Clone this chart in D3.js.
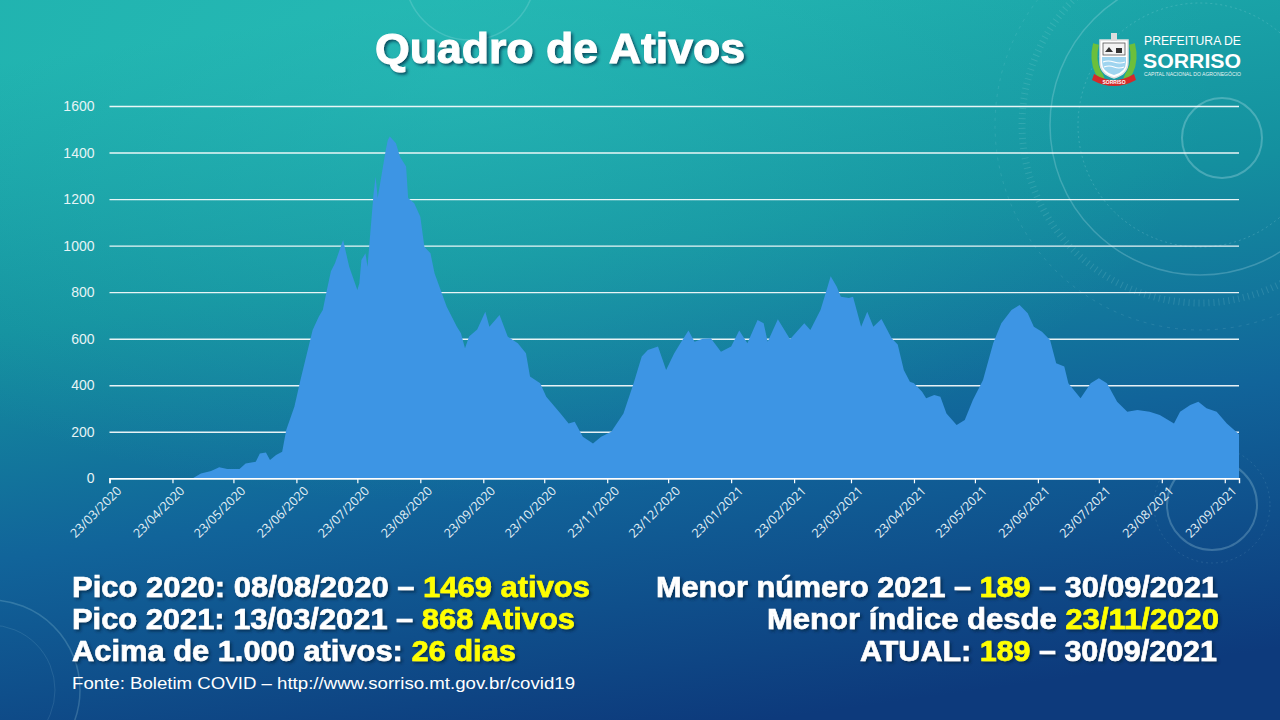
<!DOCTYPE html>
<html>
<head>
<meta charset="utf-8">
<script src="https://cdn.jsdelivr.net/npm/d3@7"></script>
<style>
  body { margin: 0; background: #0f5a8e; overflow: hidden; }
  svg { display: block; }
</style>
</head>
<body>
<div id="chart"></div>
<script>
// Ativos (casos ativos), por data
const datas = [
  "23/03/2020", "03/05/2020", "07/05/2020", "12/05/2020", "16/05/2020", "20/05/2020", "26/05/2020", "29/05/2020",
  "03/06/2020", "05/06/2020", "08/06/2020", "10/06/2020", "13/06/2020", "16/06/2020", "18/06/2020", "22/06/2020",
  "25/06/2020", "27/06/2020", "01/07/2020", "04/07/2020", "06/07/2020", "08/07/2020", "10/07/2020", "12/07/2020",
  "15/07/2020", "16/07/2020", "19/07/2020", "23/07/2020", "24/07/2020", "25/07/2020", "27/07/2020", "28/07/2020",
  "31/07/2020", "01/08/2020", "02/08/2020", "06/08/2020", "07/08/2020", "08/08/2020", "11/08/2020", "13/08/2020",
  "16/08/2020", "17/08/2020", "20/08/2020", "23/08/2020", "25/08/2020", "28/08/2020", "30/08/2020", "02/09/2020",
  "05/09/2020", "10/09/2020", "12/09/2020", "14/09/2020", "16/09/2020", "20/09/2020", "24/09/2020", "26/09/2020",
  "01/10/2020", "05/10/2020", "10/10/2020", "14/10/2020", "16/10/2020", "21/10/2020", "24/10/2020", "31/10/2020",
  "04/11/2020", "07/11/2020", "11/11/2020", "16/11/2020", "20/11/2020", "25/11/2020", "01/12/2020", "06/12/2020",
  "10/12/2020", "13/12/2020", "18/12/2020", "22/12/2020", "26/12/2020", "29/12/2020", "02/01/2021", "05/01/2021",
  "09/01/2021", "13/01/2021", "18/01/2021", "23/01/2021", "27/01/2021", "31/01/2021", "05/02/2021", "08/02/2021",
  "10/02/2021", "15/02/2021", "21/02/2021", "28/02/2021", "03/03/2021", "08/03/2021", "11/03/2021", "13/03/2021",
  "16/03/2021", "18/03/2021", "22/03/2021", "24/03/2021", "28/03/2021", "31/03/2021", "03/04/2021", "07/04/2021",
  "12/04/2021", "15/04/2021", "18/04/2021", "21/04/2021", "23/04/2021", "27/04/2021", "29/04/2021", "03/05/2021",
  "06/05/2021", "09/05/2021", "14/05/2021", "18/05/2021", "22/05/2021", "27/05/2021", "01/06/2021", "05/06/2021",
  "10/06/2021", "14/06/2021", "18/06/2021", "21/06/2021", "25/06/2021", "29/06/2021", "02/07/2021", "06/07/2021",
  "08/07/2021", "14/07/2021", "19/07/2021", "23/07/2021", "27/07/2021", "01/08/2021", "06/08/2021", "11/08/2021",
  "17/08/2021", "22/08/2021", "29/08/2021", "01/09/2021", "06/09/2021", "10/09/2021", "14/09/2021", "19/09/2021",
  "24/09/2021", "30/09/2021"
];
const ativos = [
  0, 0, 21, 31, 47, 40, 40, 64,
  71, 107, 111, 79, 100, 114, 208, 308,
  422, 494, 637, 694, 723, 809, 890, 924,
  1000, 1024, 909, 809, 838, 938, 967, 909,
  1225, 1296, 1205, 1411, 1454, 1469, 1440, 1382,
  1340, 1205, 1182, 1124, 995, 967, 881, 809,
  737, 651, 623, 559, 609, 640, 716, 651,
  702, 609, 580, 537, 437, 408, 351, 279,
  236, 243, 179, 150, 179, 200, 279, 408,
  523, 551, 566, 465, 537, 580, 635, 587,
  600, 602, 544, 566, 635, 580, 680, 666,
  587, 684, 598, 666, 637, 723, 809, 868,
  823, 780, 775, 780, 651, 716, 651, 685,
  602, 575, 465, 415, 408, 372, 344, 358,
  351, 279, 229, 251, 336, 422, 580, 666,
  723, 745, 709, 651, 630, 594, 494, 480,
  408, 344, 408, 430, 408, 329, 286, 294,
  286, 272, 236, 286, 315, 329, 301, 286,
  236, 189
];
const yTicks = [0, 200, 400, 600, 800, 1000, 1200, 1400, 1600];
const xTickLabels = [
  "23/03/2020", "23/04/2020", "23/05/2020", "23/06/2020", "23/07/2020", "23/08/2020", "23/09/2020",
  "23/10/2020", "23/11/2020", "23/12/2020", "23/01/2021", "23/02/2021", "23/03/2021", "23/04/2021",
  "23/05/2021", "23/06/2021", "23/07/2021", "23/08/2021", "23/09/2021"
];
const dataInicio = "23/03/2020";
const dataFim = "30/09/2021";

const W = 1280, H = 720;
const plot = { left: 109.5, right: 1239, top: 106, bottom: 478.3 };

const parse = d3.timeParse("%d/%m/%Y");
const fmt = d3.timeFormat("%d/%m/%Y");
const serie = datas.map((d, i) => ({ date: parse(d), value: ativos[i] }));

const svg = d3.select("#chart").append("svg")
  .attr("width", W)
  .attr("height", H);

const defs = svg.append("defs");

// background gradient teal -> blue
const bg = defs.append("linearGradient")
  .attr("id", "bg")
  .attr("x1", "0.35").attr("y1", "0")
  .attr("x2", "0.6").attr("y2", "1");
bg.append("stop").attr("offset", "0%").attr("stop-color", "#1eb0ad");
bg.append("stop").attr("offset", "35%").attr("stop-color", "#14909f");
bg.append("stop").attr("offset", "65%").attr("stop-color", "#11649a");
bg.append("stop").attr("offset", "100%").attr("stop-color", "#0d3a7c");

const glow = defs.append("radialGradient")
  .attr("id", "glow")
  .attr("cx", "0.35").attr("cy", "0.1").attr("r", "0.6");
glow.append("stop").attr("offset", "0%").attr("stop-color", "#2fc4bd").attr("stop-opacity", 0.45);
glow.append("stop").attr("offset", "100%").attr("stop-color", "#2fc4bd").attr("stop-opacity", 0);

const shadow = defs.append("filter").attr("id", "shadow")
  .attr("x", "-10%").attr("y", "-30%").attr("width", "130%").attr("height", "170%");
shadow.append("feDropShadow")
  .attr("dx", 2).attr("dy", 2).attr("stdDeviation", 1.6)
  .attr("flood-color", "#06223f").attr("flood-opacity", 0.7);

svg.append("rect").attr("width", W).attr("height", H).attr("fill", "url(#bg)");
svg.append("rect").attr("width", W).attr("height", H).attr("fill", "url(#glow)");

// decorative rings
const deco = svg.append("g").attr("fill", "none").attr("stroke", "#bfe9ee");
deco.append("circle").attr("cx", 1200).attr("cy", 125).attr("r", 150).attr("stroke-opacity", 0.25).attr("stroke-width", 1.5);
deco.append("circle").attr("cx", 1200).attr("cy", 125).attr("r", 122).attr("stroke-opacity", 0.2).attr("stroke-dasharray", "2,3");
deco.append("circle").attr("cx", 1200).attr("cy", 125).attr("r", 178).attr("stroke-opacity", 0.15).attr("stroke-width", 7).attr("stroke-dasharray", "1,4");
deco.append("circle").attr("cx", 1222).attr("cy", 138).attr("r", 40).attr("stroke-opacity", 0.3).attr("stroke-width", 2);
deco.append("circle").attr("cx", 1200).attr("cy", 125).attr("r", 205).attr("stroke-opacity", 0.12).attr("stroke-dasharray", "3,5");
deco.append("circle").attr("cx", 1212).attr("cy", 505).attr("r", 45).attr("stroke-opacity", 0.25).attr("stroke-width", 2);
deco.append("circle").attr("cx", 1212).attr("cy", 505).attr("r", 58).attr("stroke-opacity", 0.12).attr("stroke-dasharray", "2,3");
deco.append("circle").attr("cx", -10).attr("cy", 690).attr("r", 90).attr("stroke-opacity", 0.2).attr("stroke-width", 1.5);
deco.append("circle").attr("cx", -10).attr("cy", 690).attr("r", 65).attr("stroke-opacity", 0.12);
deco.append("circle").attr("cx", 470).attr("cy", -25).attr("r", 65).attr("stroke-opacity", 0.2).attr("stroke-width", 1.5);

// scales
const x = d3.scaleTime()
  .domain([parse(dataInicio), parse(dataFim)])
  .range([plot.left, plot.right]);
const y = d3.scaleLinear()
  .domain([0, 1600])
  .range([plot.bottom, plot.top]);

// grid lines + y labels
const yAxis = svg.append("g")
  .attr("transform", `translate(${plot.left},0)`)
  .call(d3.axisLeft(y)
    .tickValues(yTicks)
    .tickFormat(d3.format("d"))
    .tickSize(-(plot.right - plot.left))
    .tickPadding(15));
yAxis.select(".domain").remove();
yAxis.selectAll(".tick line")
  .attr("stroke", "#ffffff")
  .attr("stroke-opacity", 0.9)
  .attr("stroke-width", 1.4);
yAxis.selectAll(".tick text")
  .style("font-family", "'Liberation Sans', Arial, sans-serif")
  .style("font-size", "14px")
  .style("fill", "#e6f4f6");

// area
const area = d3.area()
  .x(d => x(d.date))
  .y0(y(0))
  .y1(d => y(d.value));

svg.append("path")
  .datum(serie)
  .attr("d", area)
  .attr("fill", "#3d95e4");

// x axis
const xAxis = svg.append("g")
  .attr("transform", `translate(0,${plot.bottom})`)
  .call(d3.axisBottom(x)
    .tickValues(xTickLabels.map(parse))
    .tickSize(5)
    .tickFormat(fmt));
xAxis.select(".domain")
  .attr("stroke", "#ffffff")
  .attr("stroke-width", 1.4);
xAxis.selectAll(".tick line")
  .attr("stroke", "#ffffff")
  .attr("stroke-width", 1.2);
xAxis.selectAll(".tick text")
  .attr("transform", "translate(5,6)rotate(-45)")
  .attr("y", 6)
  .attr("dy", "0.35em")
  .style("text-anchor", "end")
  .style("font-family", "'Open Sans', 'Liberation Sans', sans-serif")
  .style("font-size", "12.5px")
  .style("fill", "#e3f0f6");

// title
svg.append("text")
  .attr("x", 560)
  .attr("y", 63)
  .attr("text-anchor", "middle")
  .attr("textLength", 370)
  .attr("lengthAdjust", "spacingAndGlyphs")
  .attr("filter", "url(#shadow)")
  .style("font-family", "'Liberation Sans', Arial, sans-serif")
  .style("font-weight", "bold")
  .style("font-size", "43px")
  .style("fill", "#ffffff")
  .style("stroke", "#ffffff")
  .style("stroke-width", "1px")
  .text("Quadro de Ativos");

// info lines
const info = svg.append("g")
  .attr("filter", "url(#shadow)")
  .style("font-family", "'Liberation Sans', Arial, sans-serif")
  .style("font-weight", "bold")
  .style("font-size", "29px");

function infoLine(parts, xPos, yPos, anchor, width) {
  const t = info.append("text")
    .attr("x", xPos)
    .attr("y", yPos)
    .attr("text-anchor", anchor)
    .attr("textLength", width)
    .attr("lengthAdjust", "spacingAndGlyphs");
  parts.forEach(p => {
    const c = p[1] ? "#ffff00" : "#ffffff";
    t.append("tspan")
      .style("fill", c)
      .style("stroke", c)
      .style("stroke-width", "0.6px")
      .text(p[0]);
  });
}

infoLine([["Pico 2020: 08/08/2020 – ", false], ["1469 ativos", true]], 72, 597, "start", 518);
infoLine([["Pico 2021: 13/03/2021 – ", false], ["868 Ativos", true]], 72, 629, "start", 503);
infoLine([["Acima de 1.000 ativos: ", false], ["26 dias", true]], 72, 661, "start", 444);
infoLine([["Menor número 2021 – ", false], ["189", true], [" – 30/09/2021", false]], 1218, 597, "end", 562);
infoLine([["Menor índice desde ", false], ["23/11/2020", true]], 1219, 629, "end", 452);
infoLine([["ATUAL: ", false], ["189", true], [" – 30/09/2021", false]], 1217, 661, "end", 357);

svg.append("text")
  .attr("x", 72)
  .attr("y", 689)
  .attr("textLength", 503)
  .attr("lengthAdjust", "spacingAndGlyphs")
  .style("font-family", "'Liberation Sans', Arial, sans-serif")
  .style("font-size", "17px")
  .style("fill", "#ffffff")
  .text("Fonte: Boletim COVID – http://www.sorriso.mt.gov.br/covid19");

// logo (Prefeitura de Sorriso)
const logo = svg.append("g").attr("transform", "translate(1090,30)");
logo.append("path")
  .attr("d", "M6,14 Q2,30 8,42 Q14,50 10,52 M42,14 Q46,30 40,42 Q34,50 38,52")
  .attr("fill", "none").attr("stroke", "#6cbf3b").attr("stroke-width", 6);
logo.append("path")
  .attr("d", "M10,10 L38,10 L38,32 Q38,44 24,48 Q10,44 10,32 Z")
  .attr("fill", "#ffffff").attr("stroke", "#e0e0e0").attr("stroke-width", 1.5);
logo.append("rect").attr("x", 13).attr("y", 13).attr("width", 22).attr("height", 12).attr("fill", "#f4f4f4").attr("stroke", "#555").attr("stroke-width", 0.8);
logo.append("path").attr("d", "M15,22 L19,17 L23,22 Z M26,18 L32,18 L32,23 L26,23 Z").attr("fill", "#333");
logo.append("path")
  .attr("d", "M12,27 L36,27 L36,32 Q36,42 24,45 Q12,42 12,32 Z")
  .attr("fill", "#9fd4ef");
logo.append("path").attr("d", "M13,32 Q18,30 24,32 Q30,34 35,32 M14,37 Q19,35 24,37 Q29,39 34,37")
  .attr("fill", "none").attr("stroke", "#ffffff").attr("stroke-width", 1.2);
logo.append("rect").attr("x", 21).attr("y", 3).attr("width", 6).attr("height", 8).attr("fill", "#dddddd");
logo.append("path")
  .attr("d", "M4,44 Q24,56 44,44 L46,50 Q24,62 2,50 Z")
  .attr("fill", "#d42a2a");
logo.append("text")
  .attr("x", 24).attr("y", 53.5)
  .attr("text-anchor", "middle")
  .style("font-family", "'Liberation Sans', Arial, sans-serif")
  .style("font-size", "5px").style("font-weight", "bold")
  .style("fill", "#ffffff")
  .text("SORRISO");

logo.append("text")
  .attr("x", 54).attr("y", 15)
  .attr("textLength", 97).attr("lengthAdjust", "spacingAndGlyphs")
  .style("font-family", "'Liberation Sans', Arial, sans-serif")
  .style("font-size", "12.5px")
  .style("fill", "#ffffff")
  .text("PREFEITURA DE");
logo.append("text")
  .attr("x", 53).attr("y", 38)
  .attr("textLength", 98).attr("lengthAdjust", "spacingAndGlyphs")
  .style("font-family", "'Liberation Sans', Arial, sans-serif")
  .style("font-size", "20px").style("font-weight", "bold")
  .style("fill", "#ffffff")
  .text("SORRISO");
logo.append("text")
  .attr("x", 54).attr("y", 46)
  .attr("textLength", 97).attr("lengthAdjust", "spacingAndGlyphs")
  .style("font-family", "'Liberation Sans', Arial, sans-serif")
  .style("font-size", "6px")
  .style("fill", "#e8f4f4")
  .text("CAPITAL NACIONAL DO AGRONEGÓCIO");
</script>
</body>
</html>
